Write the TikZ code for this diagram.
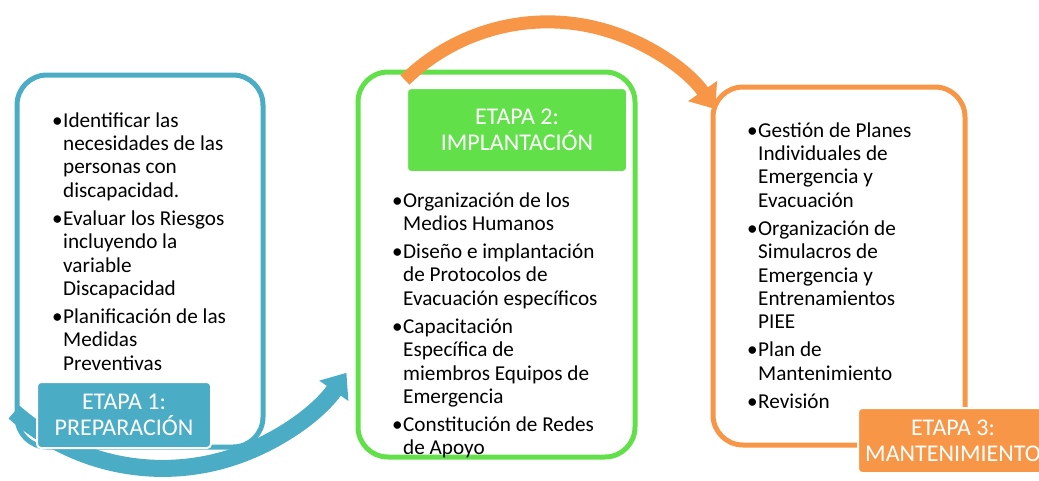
\documentclass[tikz,border=0pt]{standalone}
\usepackage{fontspec}
\setmainfont{Carlito}
\usetikzlibrary{arrows.meta}

\definecolor{etapablue}{HTML}{4BACC6}
\definecolor{etapagreen}{HTML}{62E04A}
\definecolor{etapaorange}{HTML}{F79646}

\newcommand\itm[1]{\par\hangindent=11pt\hangafter=1\noindent\makebox[11pt][l]{•}#1\par\vskip4.6pt}
\newcommand\listfont{\fontsize{21.2}{23.4}\selectfont}

\begin{document}
\begin{tikzpicture}[x=1pt,y=-1pt,
  stagebox/.style={draw, line width=5pt, rounded corners=30pt, inner sep=0pt},
  etapalabel/.style={text=white, draw=white, line width=2pt, rounded corners=4pt, inner sep=0pt, align=center, font=\fontsize{24}{26}\selectfont},
  itemlist/.style={anchor=base west, inner sep=0pt, font=\listfont},
  circarrow/.style={line width=#1, -{Triangle[length=22pt,width=34pt]}}]
\useasboundingbox (0,0) rectangle (1039,480);

%Stage frames
\node[stagebox, draw=etapablue, minimum width=246pt, minimum height=372pt] (stage1) at (140,261) {};
\node[stagebox, draw=etapagreen, minimum width=277pt, minimum height=385pt] (stage2) at (496.5,264.5) {};
\node[stagebox, draw=etapaorange, minimum width=252pt, minimum height=358pt] (stage3) at (839,266) {};

% Circular arrows
\coordinate (tail1) at (14.1,412.1);
\draw[circarrow=17pt, etapablue] (tail1) arc[start angle=131.5, end angle=35, radius=224.3];
\coordinate (tail2) at (404.9,80.0);
\draw[circarrow=13pt, etapaorange] (tail2) arc[start angle=-134.3, end angle=-35, radius=204.5];

% First stage
\node[itemlist] (list1) at (52,127) {\parbox[t]{230pt}{
\itm{Identificar las\newline necesidades de las\newline personas con\newline discapacidad.}
\itm{Evaluar los Riesgos\newline incluyendo la\newline variable\newline Discapacidad}
\itm{Planificación de las\newline Medidas\newline Preventivas}}};
\node[etapalabel, fill=etapablue, minimum width=174pt, minimum height=66pt] (label1) at (124,415) {ETAPA 1:\\PREPARACIÓN};

% Second stage
\node[etapalabel, fill=etapagreen, minimum width=220pt, minimum height=84pt] (label2) at (517,130) {ETAPA 2:\\IMPLANTACIÓN};
\node[itemlist] (list2) at (392,207) {\parbox[t]{250pt}{
\itm{Organización de los\newline Medios Humanos}
\itm{Diseño e implantación\newline de Protocolos de\newline Evacuación específicos}
\itm{Capacitación\newline Específica de\newline miembros Equipos de\newline Emergencia}
\itm{Constitución de Redes\newline de Apoyo}}};

% Third stage
\node[itemlist] (list3) at (747,137) {\parbox[t]{220pt}{
\itm{Gestión de Planes\newline Individuales de\newline Emergencia y\newline Evacuación}
\itm{Organización de\newline Simulacros de\newline Emergencia y\newline Entrenamientos\newline PIEE}
\itm{Plan de\newline Mantenimiento}
\itm{Revisión}}};
\node[etapalabel, fill=etapaorange, minimum width=190pt, minimum height=65pt] (label3) at (953,440.5) {ETAPA 3:\\MANTENIMIENTO};

\end{tikzpicture}
\end{document}
